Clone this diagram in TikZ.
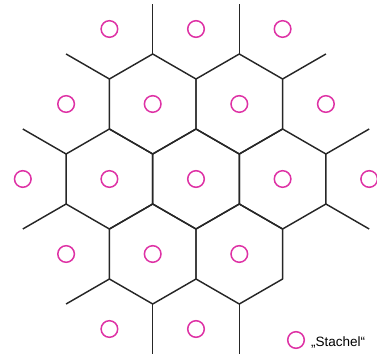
\documentclass[tikz,border=0pt]{standalone}
\usepackage{fontspec}
\setmainfont{Liberation Sans}
\definecolor{spine}{RGB}{222,50,165}

\begin{document}
\begin{tikzpicture}[x=43.3pt,y=25pt]
    \useasboundingbox(-196pt,-179pt)rectangle(181pt,179pt);
    \tikzset{wall/.style={line width=1.45pt,draw=black!85,line join=round},
        spot/.style={line width=1.5pt,draw=spine}}
        % cells
        \foreach \cx/\cy in {0/0,-2/0,2/0,-1/3,1/3,-1/-3,1/-3}
            \draw[wall](\cx,\cy+2)--(\cx-1,\cy+1)--(\cx-1,\cy-1)--(\cx,\cy-2)--(\cx+1,\cy-1)--(\cx+1,\cy+1)--cycle;
        % open walls
        \foreach \a/\b/\c/\d in {-1/5/-1/7,-2/4/-3/5,1/5/1/7,2/4/3/5,-3/1/-4/2,-3/-1/-4/-2,3/1/4/2,3/-1/4/-2,-2/-4/-3/-5,-1/-5/-1/-7,1/-5/1/-7}
            \draw[wall](\a,\b)--(\c,\d);
        % spines
        \foreach \px/\py in {-2/6,0/6,2/6,-3/3,-1/3,1/3,3/3,-4/0,-2/0,0/0,2/0,4/0,-3/-3,-1/-3,1/-3,-2/-6,0/-6}
            \draw[spot](\px,\py)circle(8.3pt);
        \draw[spot](100pt,-161pt)coordinate(key)circle(8.3pt);
        \node[anchor=base west,inner sep=0pt,font=\fontsize{13.5}{16}\selectfont]at(115pt,-167pt){„Stachel“};
\end{tikzpicture}
\end{document}
